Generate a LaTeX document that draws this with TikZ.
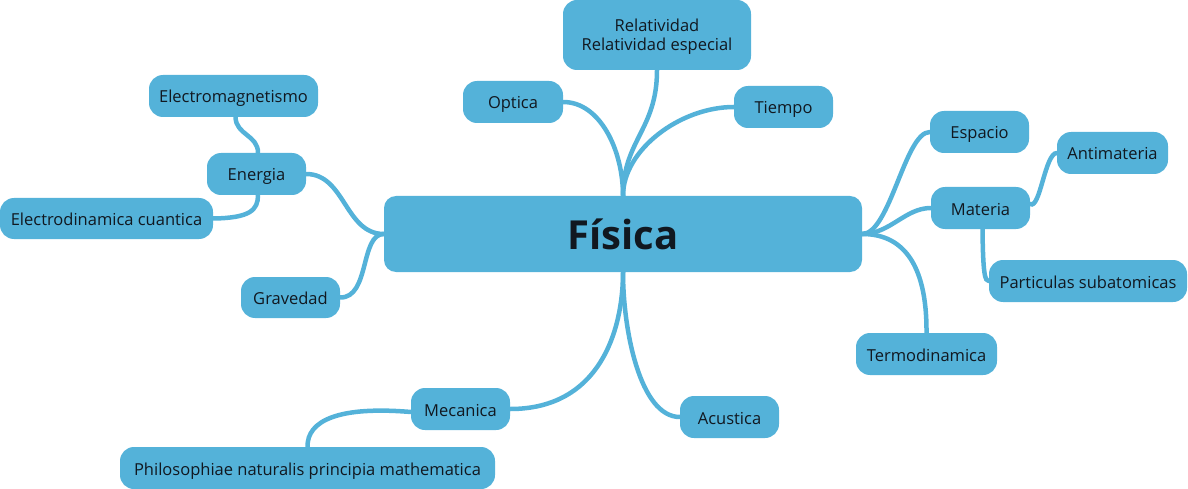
\documentclass[tikz,border=0pt]{standalone}
\usepackage{fontspec}
\setmainfont{Open Sans}
\usetikzlibrary{backgrounds}
\definecolor{boxblue}{HTML}{54B2D9}
\definecolor{txt}{HTML}{111820}
\tikzset{
  basebox/.style={fill=boxblue, rounded corners=14pt, text=txt, align=center, inner sep=0pt},
  topic/.style={basebox, font=\fontsize{16.5}{19}\selectfont, text height=14pt, text depth=0pt},
  link/.style={draw=boxblue, line width=4.5pt, line cap=round},
}
\begin{document}
\begin{tikzpicture}[x=1pt,y=-1pt]
\useasboundingbox (0,0) rectangle (1188,489);
\node[basebox, rounded corners=12pt, minimum width=478pt, minimum height=76pt, font=\fontsize{40}{48}\selectfont\bfseries] (fisica) at (623,234) {Física};
\node[topic, text height=32pt, text depth=1pt, minimum width=188pt, minimum height=70pt] (rel) at (657,35) {Relatividad\\Relatividad especial};
\node[topic, minimum width=100pt, minimum height=42pt] (optica) at (513,102) {Optica};
\node[topic, minimum width=99pt, minimum height=42pt] (tiempo) at (783.5,107) {Tiempo};
\node[topic, minimum width=169pt, minimum height=42pt] (emag) at (233.5,96) {Electromagnetismo};
\node[topic, minimum width=99pt, minimum height=42pt] (energia) at (256.5,174) {Energia};
\node[topic, minimum width=213pt, minimum height=41pt] (edin) at (106.5,218.5) {Electrodinamica cuantica};
\node[topic, minimum width=99pt, minimum height=41pt] (grav) at (290.5,297.5) {Gravedad};
\node[topic, minimum width=99pt, minimum height=42pt] (espacio) at (979.5,132) {Espacio};
\node[topic, minimum width=111pt, minimum height=42pt] (antimat) at (1112.5,153) {Antimateria};
\node[topic, minimum width=99pt, minimum height=42pt] (materia) at (980.5,208) {Materia};
\node[topic, minimum width=198pt, minimum height=42pt] (part) at (1088,281) {Particulas subatomicas};
\node[topic, minimum width=141pt, minimum height=42pt] (termo) at (926.5,354) {Termodinamica};
\node[topic, minimum width=99pt, minimum height=42pt] (mecanica) at (460.5,409) {Mecanica};
\node[topic, minimum width=99pt, minimum height=42pt] (acustica) at (729.5,417) {Acustica};
\node[topic, minimum width=375pt, minimum height=42pt] (philo) at (307.5,468) {Philosophiae naturalis principia mathematica};
\begin{scope}[on background layer]
\draw[link] (optica.east) .. controls (600,102) and (623,150) .. (fisica.north);
\draw[link] (rel.south) .. controls (657,130) and (623,140) .. (fisica.north);
\draw[link] (tiempo.west) .. controls (680,107) and (623,150) .. (fisica.north);
\draw[link] (energia.east) .. controls (345,174) and (345,234) .. (fisica.west);
\draw[link] (grav.east) .. controls (370,298) and (360,234) .. (fisica.west);
\draw[link] ([xshift=2pt]emag.south) .. controls (236,135) and (258,135) .. ([xshift=1.5pt]energia.north);
\draw[link] (edin.east) .. controls (250,218) and (258,210) .. ([xshift=1.5pt]energia.south);
\draw[link] (espacio.west) .. controls (905,132) and (890,234) .. (fisica.east);
\draw[link] (materia.west) .. controls (905,208) and (890,234) .. (fisica.east);
\draw[link] (termo.north) .. controls (927,260) and (900,234) .. (fisica.east);
\draw[link] (antimat.west) .. controls (1045,153) and (1040,210) .. ([yshift=4pt]materia.east);
\draw[link] ([xshift=2pt]materia.south) .. controls (983,275) and (985,281) .. (part.west);
\draw[link] (mecanica.east) .. controls (600,409) and (623,330) .. (fisica.south);
\draw[link] (acustica.west) .. controls (640,417) and (623,330) .. (fisica.south);
\draw[link] ([yshift=-3pt]mecanica.west) .. controls (340,406) and (307,420) .. (philo.north);
\end{scope}
\end{tikzpicture}
\end{document}
